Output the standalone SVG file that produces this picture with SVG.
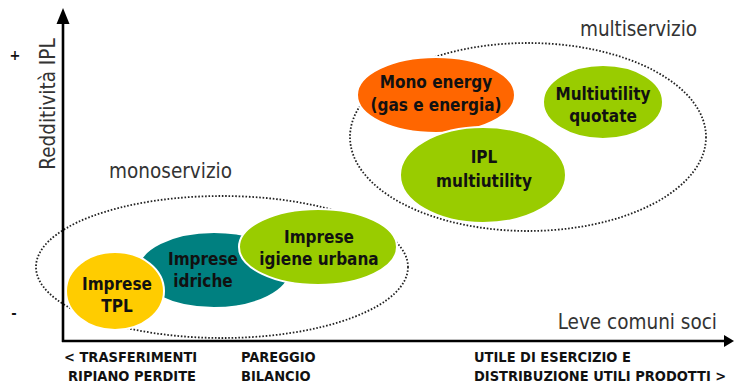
<svg xmlns="http://www.w3.org/2000/svg" width="734" height="385" viewBox="0 0 734 385">
<style>
.dot{fill:none;stroke:#222;stroke-width:1.8;stroke-dasharray:1.6 1.8}
.node{stroke:#fff;stroke-width:2}
.lbl{font-family:"DejaVu Sans Condensed","DejaVu Sans",sans-serif;font-weight:bold;font-size:17px;fill:#111;text-anchor:middle}
.ax{font-family:"DejaVu Sans Condensed","DejaVu Sans",sans-serif;font-weight:bold;font-size:14.5px;fill:#111}
.thin{font-family:"DejaVu Sans Condensed","DejaVu Sans",sans-serif;font-size:20.5px;fill:#333;font-weight:300}
</style>
<rect width="734" height="385" fill="#fff"/>
<g id="groups">
<ellipse class="dot" cx="222" cy="267" rx="186" ry="71"/>
<ellipse class="dot" cx="528" cy="137" rx="178" ry="94"/>
<text class="thin" x="109" y="178" textLength="123">monoservizio</text>
<text class="thin" x="580" y="36" textLength="117">multiservizio</text>
</g>
<g id="axes">
<line x1="63" y1="20" x2="63" y2="342" stroke="#000" stroke-width="2.6"/>
<polygon points="63,8 56.5,24 69.5,24" fill="#000"/>
<line x1="62" y1="341" x2="724" y2="341" stroke="#000" stroke-width="2.6"/>
<polygon points="734,341 724,335 724,347" fill="#000"/>
<text class="thin" x="0" y="0" transform="translate(55,104) rotate(-90)" text-anchor="middle">Redditività IPL</text>
<text class="ax" x="15" y="60" text-anchor="middle" font-size="16">+</text>
<text class="ax" x="14" y="318" text-anchor="middle" font-size="16">-</text>
<text class="thin" x="717" y="329" text-anchor="end">Leve comuni soci</text>
<text class="ax" x="64" y="362">&lt; TRASFERIMENTI</text>
<text class="ax" x="68" y="381">RIPIANO PERDITE</text>
<text class="ax" x="241" y="362">PAREGGIO</text>
<text class="ax" x="241" y="381">BILANCIO</text>
<text class="ax" x="474" y="362">UTILE DI ESERCIZIO E</text>
<text class="ax" x="474" y="381">DISTRIBUZIONE UTILI PRODOTTI &gt;</text>
</g>
<g id="idriche">
<ellipse class="node" cx="214" cy="270" rx="76" ry="38" fill="#008080"/>
<text class="lbl" x="203" y="265">Imprese</text>
<text class="lbl" x="203" y="287">idriche</text>
</g>
<g id="tpl">
<ellipse class="node" cx="115" cy="291" rx="49" ry="39" fill="#FFCC00"/>
<text class="lbl" x="117" y="290">Imprese</text>
<text class="lbl" x="117" y="312">TPL</text>
</g>
<g id="igiene">
<ellipse class="node" cx="318" cy="247" rx="79" ry="38" fill="#99CC00"/>
<text class="lbl" x="319" y="243">Imprese</text>
<text class="lbl" x="319" y="265">igiene urbana</text>
</g>
<g id="mono">
<ellipse class="node" cx="436" cy="95" rx="79" ry="38" fill="#FF6600"/>
<text class="lbl" x="436" y="88">Mono energy</text>
<text class="lbl" x="436" y="111">(gas e energia)</text>
</g>
<g id="quotate">
<ellipse class="node" cx="603" cy="102" rx="60" ry="37" fill="#99CC00"/>
<text class="lbl" x="603" y="100">Multiutility</text>
<text class="lbl" x="603" y="122">quotate</text>
</g>
<g id="ipl">
<ellipse class="node" cx="483" cy="175" rx="83" ry="48" fill="#99CC00"/>
<text class="lbl" x="484" y="163">IPL</text>
<text class="lbl" x="484" y="187">multiutility</text>
</g>
</svg>
